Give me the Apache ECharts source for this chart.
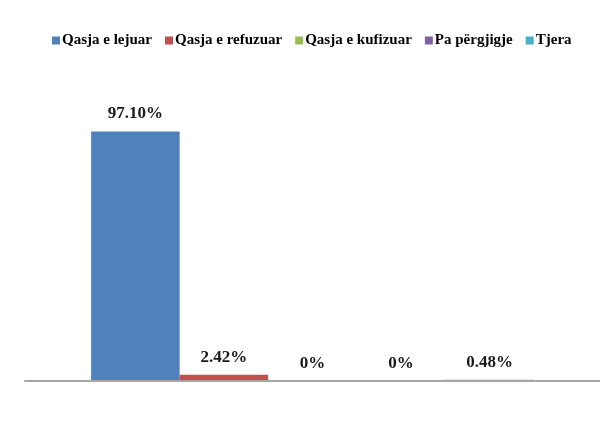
<!DOCTYPE html>
<html>
<head>
<meta charset="utf-8">
<script src="https://cdn.jsdelivr.net/npm/echarts@6/dist/echarts.min.js"></script>
<style>html,body{margin:0;padding:0;background:#fff}#c{width:600px;height:432px}</style>
</head>
<body>
<div id="c"></div>
<script>
const categories = [''];
const seriesNames = ['Qasja e lejuar', 'Qasja e refuzuar', 'Qasja e kufizuar', 'Pa përgjigje', 'Tjera'];
const seriesValues = [97.10, 2.42, 0, 0, 0.48];
const valueLabels = ['97.10%', '2.42%', '0%', '0%', '0.48%'];
const colors = ['#4F81BD', '#C0504D', '#9BBB59', '#8064A2', '#4BACC6'];

const chart = echarts.init(document.getElementById('c'), null, {renderer: 'canvas'});
const series = seriesNames.map((name, i) => ({
  name: name,
  type: 'bar',
  data: [seriesValues[i]],
  barGap: '0%',
  barCategoryGap: '23%',
  itemStyle: {color: colors[i]},
  label: {
    show: true,
    position: 'top',
    distance: 9,
    formatter: () => valueLabels[i],
    fontFamily: 'Liberation Serif',
    fontWeight: 'bold',
    fontSize: 17,
    color: '#1a1a1a'
  },
  emphasis: {disabled: true}
}));

chart.setOption({
  animation: false,
  color: colors,
  legend: {
    top: 28,
    left: 47,
    itemWidth: 8,
    itemHeight: 8,
    itemGap: 13,
    icon: 'rect',
    textStyle: {
      fontFamily: 'Liberation Serif',
      fontWeight: 'bold',
      fontSize: 15,
      color: '#000',
      padding: [0, 0, 0, -3]
    },
    data: seriesNames
  },
  grid: {left: 25, right: 0, top: 124, bottom: 51, containLabel: false},
  xAxis: {
    type: 'category',
    data: categories,
    z: 5,
    axisLine: {show: true, lineStyle: {color: '#a6a6a6', width: 2}},
    axisTick: {show: false},
    axisLabel: {show: false}
  },
  yAxis: {
    type: 'value',
    min: 0,
    max: 100,
    show: false,
    splitLine: {show: false}
  },
  series: series
});
</script>
</body>
</html>
